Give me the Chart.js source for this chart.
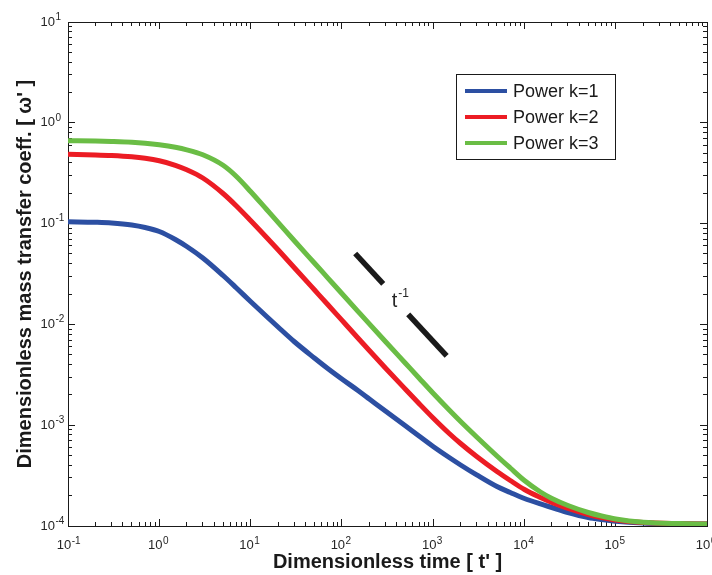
<!DOCTYPE html>
<html><head><meta charset="utf-8">
<script src="https://cdn.jsdelivr.net/npm/chart.js@4/dist/chart.umd.min.js"></script>
<style>html,body{margin:0;padding:0;background:#fff}#c{display:block}</style>
</head><body>
<canvas id="c" width="712" height="575"></canvas>
<script>
// ---------- data ----------
const times = [0.1, 0.2, 0.3, 0.5, 0.7, 1, 1.5, 2, 3, 5, 7, 10, 15, 20, 30, 50, 70, 100, 150, 200, 300, 500, 700, 1000, 1500, 2000, 3000, 5000, 7000, 1e4, 1.5e4, 2e4, 3e4, 5e4, 7e4, 1e5, 2e5, 5e5, 1e6];
const powerK1 = [0.10444, 0.10302, 0.10138, 0.09685, 0.09147, 0.08349, 0.06958, 0.05927, 0.04557, 0.03055, 0.02297, 0.01688, 0.01198, 0.009424, 0.006767, 0.004642, 0.003652, 0.002873, 0.002209, 0.001819, 0.001383, 0.000982, 0.000781, 0.000615, 0.000478, 0.000403, 0.000321, 0.000246, 0.000215, 0.0001874, 0.0001654, 0.0001526, 0.0001361, 0.0001215, 0.000116, 0.0001116, 0.0001071, 0.0001051, 0.0001046];
const powerK2 = [0.4870, 0.4803, 0.4738, 0.4599, 0.4444, 0.4198, 0.3788, 0.3417, 0.2834, 0.1989, 0.1495, 0.1073, 0.07279, 0.05497, 0.03669, 0.02204, 0.015754, 0.011007, 0.00733, 0.005509, 0.003694, 0.0022608, 0.0016417, 0.0011788, 0.0008274, 0.0006583, 0.0004892, 0.0003473, 0.00028279, 0.00023019, 0.0001918, 0.00017108, 0.00014914, 0.00013004, 0.0001215, 0.00011469, 0.00010808, 0.0001054, 0.0001046];
const powerK3 = [0.6644, 0.6598, 0.6538, 0.6420, 0.6275, 0.6050, 0.5714, 0.5397, 0.4814, 0.3788, 0.2933, 0.2082, 0.1380, 0.10302, 0.06798, 0.04066, 0.02899, 0.020253, 0.013488, 0.010115, 0.006767, 0.004094, 0.00294, 0.0020726, 0.0014152, 0.0010882, 0.0007637, 0.0004948, 0.0003762, 0.00028279, 0.00021746, 0.0001874, 0.00015973, 0.0001361, 0.00012566, 0.00011733, 0.00010882, 0.00010564, 0.0001046];
const seriesLabels = ['Power k=1', 'Power k=2', 'Power k=3'];
const slopeSegmentA = [[140, 0.0505], [284, 0.0252]];
const slopeSegmentB = [[533, 0.0126], [1406, 0.00486]];
const slopeLabelBase = 't';
const slopeLabelExp = '-1';
const slopeLabelAt = [351, 0.0148];
const xMajorTicks = [0.1, 1, 10, 100, 1e3, 1e4, 1e5, 1e6];
const xTickBase = ['10', '10', '10', '10', '10', '10', '10', '10'];
const xTickExp = ['-1', '0', '1', '2', '3', '4', '5', '6'];
const yMajorTicks = [1e-4, 1e-3, 1e-2, 1e-1, 1, 10];
const yTickBase = ['10', '10', '10', '10', '10', '10'];
const yTickExp = ['-4', '-3', '-2', '-1', '0', '1'];
const xTitle = "Dimensionless time [ t' ]";
const yTitle = "Dimensionless mass transfer coeff. [ \u03C9' ]";

// ---------- helpers ----------
function minorTicks(majors) {
  const out = [];
  for (let i = 0; i < majors.length - 1; i++) for (let m = 2; m <= 9; m++) out.push(majors[i] * m);
  return out;
}
const pts = (xs, ys) => xs.map((x, i) => ({x: x, y: ys[i]}));
const pairPts = arr => arr.map(p => ({x: p[0], y: p[1]}));

const FONT = "'Liberation Sans', Arial, Helvetica, sans-serif";
const AX = '#1a1a1a';
const TICK_TXT = '#262626';

function axis(ax, position, weight, values, labels, tickLen, size, title, pad, labelOffset) {
  return {
    type: 'logarithmic', axis: ax, position: position, weight: weight,
    min: ax === 'x' ? xMajorTicks[0] : yMajorTicks[0],
    max: ax === 'x' ? xMajorTicks[xMajorTicks.length - 1] : yMajorTicks[yMajorTicks.length - 1],
    afterBuildTicks: s => { s.ticks = values.map(v => ({value: v})); },
    afterFit: s => {
      if (ax === 'x') s.height = size; else s.width = size;
      s.paddingLeft = 0; s.paddingRight = 0; s.paddingTop = 0; s.paddingBottom = 0;
    },
    grid: {display: true, drawOnChartArea: false, drawTicks: true, tickLength: tickLen, tickColor: AX, tickWidth: 1},
    border: {display: true, color: AX, width: 1},
    ticks: labels ? {
      display: true, autoSkip: false, maxRotation: 0, minRotation: 0, padding: pad, labelOffset: labelOffset || 0,
      color: TICK_TXT, font: {family: FONT, size: 13},
      callback: (v) => { const k = values.indexOf(v); return k >= 0 ? labels[k] : ''; }
    } : {display: false},
    title: title ? {display: true, text: title.text, color: '#1a1a1a', font: {family: FONT, size: 20, weight: 'bold'}, padding: title.padding} : {display: false}
  };
}

// exponents placed right after the library's own tick labels ("10")
const exponentPlugin = {
  id: 'tickExponents',
  afterDraw(chart) {
    const ctx = chart.ctx;
    const jobs = [[chart.scales.x, xMajorTicks, xTickExp], [chart.scales.y, yMajorTicks, yTickExp]];
    ctx.save();
    ctx.fillStyle = TICK_TXT;
    ctx.textBaseline = 'middle'; ctx.textAlign = 'left';
    jobs.forEach(([scale, values, exps]) => {
      const items = scale.getLabelItems();
      items.forEach((it, i) => {
        const k = values.indexOf(scale.ticks[i].value);
        if (k < 0) return;
        ctx.font = it.font.string;
        const w = ctx.measureText(it.label).width;
        const [tx, ty] = it.options.translation;
        const align = it.options.textAlign;
        const right = align === 'center' ? tx + w / 2 : (align === 'right' ? tx : tx + w);
        const midY = ty + (it.textOffset || 0);
        ctx.font = '10px ' + FONT;
        ctx.fillText(exps[k], right + 0.5, midY - 5);
      });
    });
    ctx.restore();
  }
};

const legendPlugin = {
  id: 'boxLegend',
  afterDraw(chart) {
    const ctx = chart.ctx;
    const x0 = 456, y0 = 74, w = 159, h = 85;
    ctx.save();
    ctx.fillStyle = '#fff';
    ctx.fillRect(x0, y0, w, h);
    ctx.strokeStyle = AX; ctx.lineWidth = 1;
    ctx.strokeRect(x0 + 0.5, y0 + 0.5, w, h);
    ctx.font = '18px ' + FONT;
    ctx.textBaseline = 'middle'; ctx.textAlign = 'left';
    chart.data.datasets.slice(0, 3).forEach((ds, i) => {
      const y = y0 + 17 + i * 26;
      ctx.strokeStyle = ds.borderColor; ctx.lineWidth = 4; ctx.lineCap = 'butt';
      ctx.beginPath(); ctx.moveTo(465, y); ctx.lineTo(507, y); ctx.stroke();
      ctx.fillStyle = '#1a1a1a';
      ctx.fillText(ds.label, 513, y + 1);
    });
    ctx.restore();
  }
};

const slopeTextPlugin = {
  id: 'slopeText',
  afterDatasetsDraw(chart) {
    const ctx = chart.ctx;
    const px = chart.scales.x.getPixelForValue(slopeLabelAt[0]);
    const py = chart.scales.y.getPixelForValue(slopeLabelAt[1]);
    ctx.save();
    ctx.fillStyle = '#262626';
    ctx.textBaseline = 'alphabetic'; ctx.textAlign = 'left';
    ctx.font = '20px ' + FONT;
    ctx.fillText(slopeLabelBase, px, py);
    const w = ctx.measureText(slopeLabelBase).width;
    ctx.font = '12px ' + FONT;
    ctx.fillText(slopeLabelExp, px + w + 1, py - 10.5);
    ctx.restore();
  }
};

const lineStyle = (color, order) => ({borderColor: color, backgroundColor: color, borderWidth: 5, pointRadius: 0, fill: false, cubicInterpolationMode: 'monotone', order: order, xAxisID: 'x', yAxisID: 'y'});

new Chart(document.getElementById('c'), {
  type: 'line',
  data: {
    datasets: [
      Object.assign({label: seriesLabels[0], data: pts(times, powerK1)}, lineStyle('#2c4fa2', 3)),
      Object.assign({label: seriesLabels[1], data: pts(times, powerK2)}, lineStyle('#ec1c24', 2)),
      Object.assign({label: seriesLabels[2], data: pts(times, powerK3)}, lineStyle('#6abd45', 1)),
      {label: 'slope A', data: pairPts(slopeSegmentA), borderColor: '#1a1a1a', borderWidth: 5.5, pointRadius: 0, borderCapStyle: 'butt', order: 0, xAxisID: 'x', yAxisID: 'y'},
      {label: 'slope B', data: pairPts(slopeSegmentB), borderColor: '#1a1a1a', borderWidth: 5.5, pointRadius: 0, borderCapStyle: 'butt', order: 0, xAxisID: 'x', yAxisID: 'y'}
    ]
  },
  options: {
    responsive: false, animation: false, devicePixelRatio: 1,
    layout: {padding: {top: 22, right: 5, left: 0, bottom: 0}},
    plugins: {legend: {display: false}, tooltip: {enabled: false}},
    scales: {
      x: axis('x', 'bottom', 1, xMajorTicks, xTickBase, -7, 49, {text: xTitle, padding: {top: 0, bottom: 1}}, 19, -4),
      xMinor: axis('x', 'bottom', 0, minorTicks(xMajorTicks), null, -4, 0, null, 0),
      xTop: axis('x', 'top', 1, xMajorTicks, null, -7, 0, null, 0),
      xTopMinor: axis('x', 'top', 0, minorTicks(xMajorTicks), null, -4, 0, null, 0),
      y: axis('y', 'left', 1, yMajorTicks, yTickBase, -7, 68, {text: yTitle, padding: {top: 13, bottom: 0}}, 20, 0),
      yMinor: axis('y', 'left', 0, minorTicks(yMajorTicks), null, -4, 0, null, 0),
      yRight: axis('y', 'right', 1, yMajorTicks, null, -7, 0, null, 0),
      yRightMinor: axis('y', 'right', 0, minorTicks(yMajorTicks), null, -4, 0, null, 0)
    }
  },
  plugins: [slopeTextPlugin, legendPlugin, exponentPlugin]
});
</script>
</body></html>
